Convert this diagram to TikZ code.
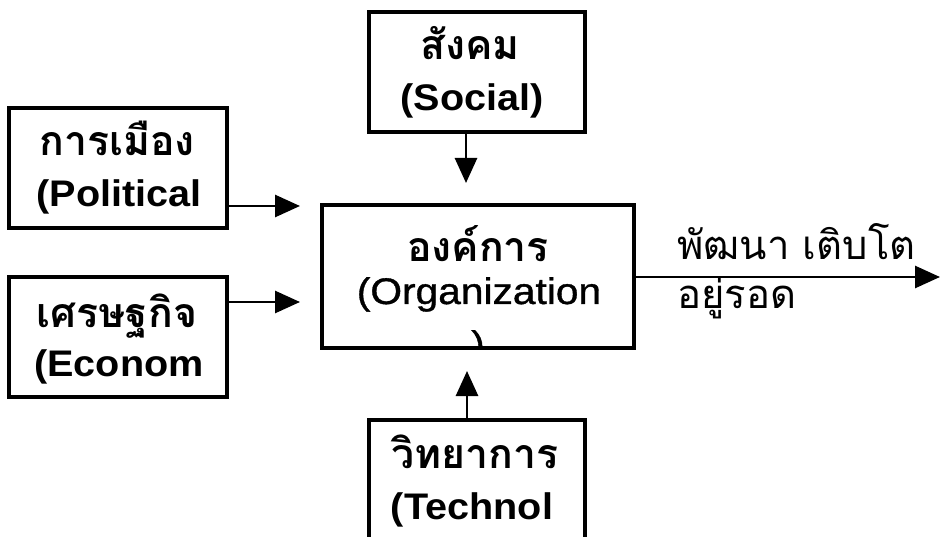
\documentclass[tikz,border=0pt]{standalone}
\usepackage{fontspec}
\usetikzlibrary{arrows.meta}
\newfontfamily\thaifont[Script=Thai]{Loma}
\newfontfamily\latb{Liberation Sans}[FakeStretch=1.07]
\newfontfamily\latm{Liberation Sans}[FakeStretch=1.1,FakeBold=1]
\tikzset{
  box/.style={draw=black, line width=3.2pt, fill=white},
  arr/.style={line width=2.8pt, -{Triangle[length=25pt,width=22pt]}},
  thl/.style={anchor=base, inner sep=0pt, font=\thaifont\bfseries\fontsize{41}{46}\selectfont},
  lal/.style={anchor=base, inner sep=0pt, font=\latb\bfseries\fontsize{37}{42}\selectfont},
  lam/.style={anchor=base, inner sep=0pt, font=\latm\fontsize{37}{42}\selectfont},
  outl/.style={anchor=base west, inner sep=0pt, font=\thaifont\fontsize{40}{46}\selectfont},
}
\begin{document}
\begin{tikzpicture}[x=1pt,y=-1pt]
\useasboundingbox (0,0) rectangle (940,537);
\clip (0,0) rectangle (940,537);
\fill[white] (0,0) rectangle (940,537);
% boxes
\draw[box] (9,108) rectangle (227,228);
\node[inner sep=0pt, minimum width=218pt, minimum height=120pt] (pol) at (118,168) {};
\draw[box] (9,277) rectangle (227,397);
\node[inner sep=0pt, minimum width=218pt, minimum height=120pt] (eco) at (118,337) {};
\draw[box] (369,12) rectangle (585,132);
\node[inner sep=0pt, minimum width=216pt, minimum height=120pt] (soc) at (477,72) {};
\draw[box] (322,205) rectangle (634,348);
\node[inner sep=0pt, minimum width=312pt, minimum height=143pt] (org) at (478,276.5) {};
\draw[box] (369,420) rectangle (585,580);
\node[inner sep=0pt, minimum width=216pt, minimum height=160pt] (tech) at (477,500) {};
% texts
\begin{scope}
\clip (9,108) rectangle (227,228);
\node[thl] (polth) at (117,156) {การเมือง};
\node[lal] (polen) at (119,207) {(Political};
\node[lal] (polen2) at (118,258) {)};
\end{scope}
\begin{scope}
\clip (9,277) rectangle (227,397);
\node[thl] (ecoth) at (117,327) {เศรษฐกิจ};
\node[lal] (ecoen) at (119,376) {(Econom};
\node[lal] (ecoen2) at (118,427) {y)};
\end{scope}
\begin{scope}
\clip (369,12) rectangle (585,132);
\node[thl] (socth) at (470,60) {สังคม};
\node[lal] (socen) at (472,111) {(Social)};
\end{scope}
\begin{scope}
\clip (322,205) rectangle (634,347);
\node[thl] (orgth) at (478,262) {องค์การ};
\node[lam] (orgen) at (479,304) {(Organization};
\node[lam] (orgen2) at (478,357) {)};
\end{scope}
\begin{scope}
\clip (369,420) rectangle (585,580);
\node[thl] (techth) at (475,468) {วิทยาการ};
\node[lal] (techen) at (472,519) {(Technol};
\end{scope}
% arrows
\coordinate (pa) at (300,206);
\coordinate (ea) at (300,302);
\coordinate (sa) at (466,183);
\coordinate (ta) at (467,371);
\coordinate (oa) at (940,277);
\draw[arr] (pa -| pol.east) -- (pa);
\draw[arr] (ea -| eco.east) -- (ea);
\draw[arr] (sa |- soc.south) -- (sa);
\draw[arr] (ta |- tech.north) -- (ta);
\draw[arr] (oa -| org.east) -- (oa);
% output label
\node[outl] (out1) at (677,260) {พัฒนา เติบโต};
\node[outl] (out2) at (677,309) {อยู่รอด};
\end{tikzpicture}
\end{document}
